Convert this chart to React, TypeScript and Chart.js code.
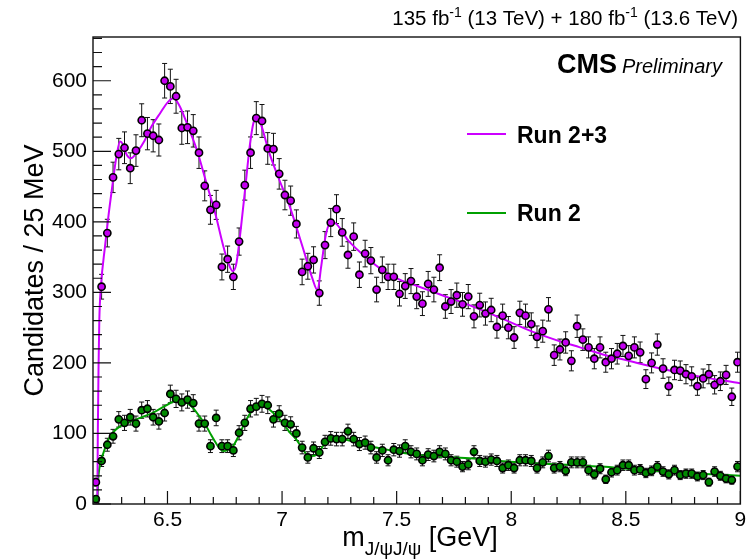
import { useEffect, useRef } from "react";
import { Chart, registerables } from "chart.js";

Chart.register(...registerables);

// Histogram binning: 25 MeV bins starting at the lower edge of the plot
const BIN_START = 6.175;
const BIN_WIDTH = 0.025;
const X_MIN = 6.175;
const X_MAX = 9.0;
const Y_MIN = 0;
const Y_MAX = 662;

// Candidates per 25 MeV bin
const run23Counts = [
  31, 308, 384, 463, 496, 505, 476, 501, 544, 525,
  522, 516, 600, 592, 578, 533, 534, 529, 498, 451,
  417, 424, 336, 347, 322, 372, 452, 498, 547, 543,
  504, 503, 468, 438, 430, 397, 329, 337, 346, 299,
  367, 399, 418, 385, 353, 379, 325, 355, 345, 304,
  332, 322, 322, 298, 309, 316, 294, 284, 312, 304,
  335, 280, 287, 296, 283, 294, 266, 282, 270, 275,
  251, 267, 250, 236, 271, 267, 255, 237, 245, 276,
  211, 219, 229, 203, 252, 233, 222, 206, 222, 201,
  206, 213, 224, 210, 222, 215, 177, 200, 226, 192,
  167, 190, 189, 184, 181, 167, 178, 184, 169, 174,
  183, 152, 201,
];

const run2Counts = [
  7, 61, 84, 96, 120, 115, 123, 114, 133, 135,
  123, 117, 129, 156, 149, 144, 148, 143, 114, 114,
  82, 122, 82, 82, 76, 101, 115, 135, 138, 142,
  140, 120, 128, 115, 113, 100, 80, 66, 79, 73,
  88, 93, 92, 92, 103, 92, 85, 87, 80, 66,
  76, 62, 77, 75, 82, 74, 71, 62, 70, 68,
  74, 71, 62, 60, 53, 56, 74, 61, 60, 63,
  61, 51, 55, 51, 62, 62, 61, 51, 59, 68,
  51, 53, 47, 59, 59, 59, 48, 42, 50, 35,
  45, 48, 55, 55, 48, 49, 44, 47, 53, 46,
  42, 48, 41, 43, 43, 39, 41, 31, 46, 40,
  36, 34, 53,
];

// Fit curves
const run23FitX = [
  6.194, 6.196, 6.199, 6.2025, 6.21, 6.227, 6.243, 6.259, 6.276, 6.293,
  6.305, 6.322, 6.34, 6.37, 6.4, 6.43, 6.47, 6.5, 6.525, 6.55,
  6.59, 6.63, 6.67, 6.71, 6.74, 6.765, 6.785, 6.8, 6.82, 6.84,
  6.86, 6.875, 6.89, 6.91, 6.94, 6.98, 7.03, 7.09, 7.13, 7.155,
  7.17, 7.19, 7.21, 7.225, 7.29, 7.365, 7.44, 7.513, 7.59, 7.69,
  7.8, 7.945, 8.095, 8.2, 8.3, 8.4, 8.5, 8.65, 8.8, 9.0,
];
const run23FitY = [
  0, 100, 190, 260, 310, 364, 410, 450, 490, 514,
  510, 495, 490, 500, 515, 535, 555, 569, 575, 566,
  535, 500, 455, 410, 370, 342, 330, 340, 390, 450,
  510, 540, 549, 536, 502, 466, 425, 364, 322, 303,
  335, 380, 398, 399, 373, 350, 331, 318, 309, 297,
  284, 265, 244, 232, 222, 212, 204, 192, 182, 171,
];

const run2FitX = [
  6.194, 6.196, 6.199, 6.209, 6.221, 6.234, 6.25, 6.27, 6.293, 6.34,
  6.38, 6.42, 6.452, 6.49, 6.524, 6.55, 6.57, 6.59, 6.612, 6.64,
  6.67, 6.69, 6.714, 6.73, 6.745, 6.765, 6.786, 6.81, 6.83, 6.85,
  6.873, 6.895, 6.915, 6.945, 6.975, 7.003, 7.03, 7.061, 7.09, 7.105,
  7.13, 7.15, 7.17, 7.19, 7.236, 7.28, 7.34, 7.41, 7.49, 7.557,
  7.703, 7.85, 7.995, 8.125, 8.245, 8.395, 8.535, 8.675, 8.825, 9.0,
];
const run2FitY = [
  0, 20, 40, 60, 73, 85, 96, 104, 110, 117,
  122, 127, 132, 139, 145, 147, 146, 142, 136, 124,
  110, 98, 85, 78, 75, 77, 82, 96, 110, 123,
  134, 140, 141, 134, 125, 115, 103, 92, 78, 71,
  68, 70, 78, 87, 93, 91, 86, 80, 75, 71,
  67, 64, 60, 57.5, 55.5, 53, 49, 46, 43, 40,
];

const xTickValues = [6.5, 7, 7.5, 8, 8.5, 9];
const xTickLabels = ["6.5", "7", "7.5", "8", "8.5", "9"];
const yTickValues = [0, 100, 200, 300, 400, 500, 600];
const yTickLabels = ["0", "100", "200", "300", "400", "500", "600"];

const seriesNames = ["Run 2+3", "Run 2"];
const lumiParts = [
  { text: "135 fb", sup: false },
  { text: "-1", sup: true },
  { text: " (13 TeV) + 180 fb", sup: false },
  { text: "-1", sup: true },
  { text: " (13.6 TeV)", sup: false },
];
const yTitle = "Candidates / 25 MeV";
const xTitleMain = "m";
const xTitleSub = "J/\u03c8J/\u03c8";
const xTitleUnit = " [GeV]";

const PURPLE_LINE = "#cc00ff";
const PURPLE_MARK = "#c400f0";
const GREEN_LINE = "#00a000";
const GREEN_MARK = "#008a00";
const FONT = '"Liberation Sans", Arial, Helvetica, sans-serif';

const binCenter = (i: number) => BIN_START + BIN_WIDTH * (i + 0.5);

const bgPlugin = {
  id: "bg",
  beforeDraw(chart: any) {
    const { ctx, width, height } = chart;
    ctx.save();
    ctx.fillStyle = "#fff";
    ctx.fillRect(0, 0, width, height);
    ctx.restore();
  },
};

const errorBarPlugin = {
  id: "errorBars",
  beforeDatasetsDraw(chart: any) {
    const { ctx, chartArea } = chart;
    const x = chart.scales.x;
    const y = chart.scales.y;
    ctx.save();
    ctx.beginPath();
    ctx.rect(chartArea.left, chartArea.top, chartArea.right - chartArea.left, chartArea.bottom - chartArea.top);
    ctx.clip();
    ctx.strokeStyle = "#111";
    ctx.lineWidth = 1;
    [run23Counts, run2Counts].forEach((arr) =>
      arr.forEach((c, i) => {
        const e = Math.sqrt(c);
        const px = x.getPixelForValue(binCenter(i));
        const y1 = y.getPixelForValue(c - e);
        const y2 = y.getPixelForValue(c + e);
        ctx.beginPath();
        ctx.moveTo(px, y1);
        ctx.lineTo(px, y2);
        ctx.moveTo(px - 2.5, y1);
        ctx.lineTo(px + 2.5, y1);
        ctx.moveTo(px - 2.5, y2);
        ctx.lineTo(px + 2.5, y2);
        ctx.stroke();
      })
    );
    ctx.restore();
  },
};

const decorPlugin = {
  id: "decor",
  afterDraw(chart: any) {
    const { ctx, chartArea } = chart;
    const x = chart.scales.x;
    const y = chart.scales.y;
    const { left, right, top, bottom } = chartArea;
    ctx.save();
    // frame
    ctx.strokeStyle = "#111";
    ctx.lineWidth = 1.4;
    ctx.strokeRect(left, top, right - left, bottom - top);

    // y ticks (inside)
    ctx.lineWidth = 1.2;
    ctx.beginPath();
    for (let v = 0; v <= Y_MAX; v += 20) {
      const py = y.getPixelForValue(v);
      const len = v % 100 === 0 ? 18 : 9;
      ctx.moveTo(left, py);
      ctx.lineTo(left + len, py);
    }
    // x ticks (inside)
    for (let k = 62; k <= 90; k++) {
      const v = k / 10;
      const px = x.getPixelForValue(v);
      const len = k % 5 === 0 ? 13 : 7;
      ctx.moveTo(px, bottom);
      ctx.lineTo(px, bottom - len);
    }
    ctx.stroke();

    ctx.fillStyle = "#000";
    ctx.textBaseline = "alphabetic";

    // lumi label (right aligned)
    const bigF = `20.5px ${FONT}`;
    const supF = `14px ${FONT}`;
    let total = 0;
    lumiParts.forEach((p) => {
      ctx.font = p.sup ? supF : bigF;
      total += ctx.measureText(p.text).width;
    });
    let cx = 738 - total;
    lumiParts.forEach((p) => {
      ctx.font = p.sup ? supF : bigF;
      ctx.fillText(p.text, cx, p.sup ? 17 : 25);
      cx += ctx.measureText(p.text).width;
    });

    // CMS Preliminary
    ctx.textAlign = "right";
    ctx.font = `italic 20px ${FONT}`;
    ctx.fillText("Preliminary", 722, 73);
    const pw = ctx.measureText("Preliminary").width;
    ctx.font = `bold 27px ${FONT}`;
    ctx.fillText("CMS", 722 - pw - 5, 73);
    ctx.textAlign = "left";

    // legend
    const legendY = [134, 213];
    const legendBase = [143, 221];
    const legendCol = [PURPLE_LINE, GREEN_LINE];
    seriesNames.forEach((name, k) => {
      ctx.strokeStyle = legendCol[k];
      ctx.lineWidth = 2;
      ctx.beginPath();
      ctx.moveTo(467, legendY[k]);
      ctx.lineTo(506, legendY[k]);
      ctx.stroke();
      ctx.font = `bold 23px ${FONT}`;
      ctx.fillStyle = "#000";
      ctx.fillText(name, 517, legendBase[k]);
    });

    // x title
    const mainF = `27px ${FONT}`;
    const subF = `19px ${FONT}`;
    ctx.font = mainF;
    const w1 = ctx.measureText(xTitleMain).width;
    const w3 = ctx.measureText(xTitleUnit).width;
    ctx.font = subF;
    const w2 = ctx.measureText(xTitleSub).width;
    let tx = 420 - (w1 + w2 + w3) / 2;
    ctx.font = mainF;
    ctx.fillText(xTitleMain, tx, 546);
    tx += w1;
    ctx.font = subF;
    ctx.fillText(xTitleSub, tx, 555);
    tx += w2;
    ctx.font = mainF;
    ctx.fillText(xTitleUnit, tx, 546);

    // y title
    ctx.save();
    ctx.translate(43, (top + bottom) / 2);
    ctx.rotate(-Math.PI / 2);
    ctx.textAlign = "center";
    ctx.font = `27px ${FONT}`;
    ctx.fillText(yTitle, 0, 0);
    ctx.restore();

    ctx.restore();
  },
};

export default function App() {
  const ref = useRef<HTMLCanvasElement | null>(null);

  useEffect(() => {
    document.body.style.margin = "0";
    const canvas = ref.current;
    if (!canvas) return;
    const chart = new Chart(canvas, {
      type: "scatter",
      data: {
        datasets: [
          {
            label: seriesNames[0] + " fit",
            data: run23FitX.map((v, i) => ({ x: v, y: run23FitY[i] })),
            showLine: true,
            borderColor: PURPLE_LINE,
            borderWidth: 2,
            pointRadius: 0,
            cubicInterpolationMode: "monotone",
            order: 3,
          } as any,
          {
            label: seriesNames[1] + " fit",
            data: run2FitX.map((v, i) => ({ x: v, y: run2FitY[i] })),
            showLine: true,
            borderColor: GREEN_LINE,
            borderWidth: 2,
            pointRadius: 0,
            cubicInterpolationMode: "monotone",
            order: 3,
          } as any,
          {
            label: seriesNames[0],
            data: run23Counts.map((c, i) => ({ x: binCenter(i), y: c })),
            showLine: false,
            pointRadius: 3.6,
            pointBorderWidth: 1.6,
            pointBackgroundColor: PURPLE_MARK,
            pointBorderColor: "#000",
            order: 1,
          },
          {
            label: seriesNames[1],
            data: run2Counts.map((c, i) => ({ x: binCenter(i), y: c })),
            showLine: false,
            pointRadius: 3.6,
            pointBorderWidth: 1.6,
            pointBackgroundColor: GREEN_MARK,
            pointBorderColor: "#000",
            order: 1,
          },
        ],
      },
      options: {
        animation: false,
        responsive: false,
        maintainAspectRatio: false,
        events: [],
        layout: { padding: { left: 0, right: 4, top: 37, bottom: 0 } },
        plugins: { legend: { display: false }, tooltip: { enabled: false } },
        scales: {
          x: {
            type: "linear",
            min: X_MIN,
            max: X_MAX,
            grid: { display: false, drawTicks: false },
            border: { display: false },
            afterBuildTicks: (s: any) => {
              s.ticks = xTickValues.map((v) => ({ value: v }));
            },
            afterFit: (s: any) => {
              s.height = 56;
              s.paddingLeft = 0;
              s.paddingRight = 0;
            },
            ticks: {
              autoSkip: false,
              maxRotation: 0,
              padding: 4,
              color: "#000",
              font: { family: FONT, size: 21 },
              callback: (v: any) => {
                const idx = xTickValues.indexOf(Number(v));
                return idx >= 0 ? xTickLabels[idx] : "";
              },
            },
          },
          y: {
            type: "linear",
            min: Y_MIN,
            max: Y_MAX,
            grid: { display: false, drawTicks: false },
            border: { display: false },
            afterBuildTicks: (s: any) => {
              s.ticks = yTickValues.map((v) => ({ value: v }));
            },
            afterFit: (s: any) => {
              s.width = 93;
              s.paddingTop = 0;
              s.paddingBottom = 0;
            },
            ticks: {
              autoSkip: false,
              padding: 6,
              color: "#000",
              font: { family: FONT, size: 21 },
              callback: (v: any) => {
                const idx = yTickValues.indexOf(Number(v));
                return idx >= 0 ? yTickLabels[idx] : "";
              },
            },
          },
        },
      },
      plugins: [bgPlugin, errorBarPlugin, decorPlugin],
    });
    return () => chart.destroy();
  }, []);

  return (
    <div style={{ position: "absolute", left: 0, top: 0, width: 746, height: 560 }}>
      <canvas ref={ref} width={746} height={560} style={{ display: "block", width: 746, height: 560 }} />
    </div>
  );
}
